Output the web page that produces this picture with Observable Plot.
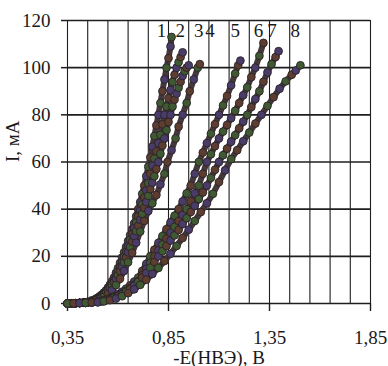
<!DOCTYPE html>
<html>
<head>
<meta charset="utf-8">
<script src="https://cdn.jsdelivr.net/npm/d3@7"></script>
<script src="https://cdn.jsdelivr.net/npm/@observablehq/plot@0.6"></script>
<style>
  html, body { margin: 0; padding: 0; background: #fff; }
  #chart { width: 388px; height: 366px; }
</style>
</head>
<body>
<div id="chart"></div>
<script>
// Series data: potential -E (V) and current I (mA)
const e1 = [0.35,0.37,0.39,0.41,0.43,0.45,0.47,0.49,0.50,0.51,0.52,0.53,0.54,0.55,0.56,0.57,0.58,0.59,0.60,0.61,0.62,0.63,0.64,0.65,0.66,0.67,0.68,0.69,0.70,0.71,0.72,0.73,0.74,0.75,0.76,0.77,0.78,0.79,0.80,0.81,0.82,0.83,0.84,0.85,0.86,0.865];
const i1 = [0,0.05,0.1,0.3,0.5,0.7,1.3,2,2.5,3.1,3.8,4.6,5.5,6.7,8,9.4,11,13,15,17.2,19.5,21.7,24,26.5,29,31.5,34,37,40,43,46.5,50,54,58,62,66.5,71,75.5,80,85,90,95,100,104,109,113];
const e2 = [0.35,0.37,0.39,0.41,0.43,0.45,0.47,0.49,0.50,0.51,0.52,0.53,0.54,0.55,0.56,0.57,0.58,0.59,0.60,0.61,0.62,0.63,0.64,0.65,0.66,0.67,0.68,0.69,0.70,0.71,0.72,0.73,0.74,0.75,0.76,0.77,0.78,0.79,0.80,0.81,0.82,0.83,0.84,0.85,0.86,0.87,0.88,0.89,0.90,0.91,0.92];
const i2 = [0,0.05,0.1,0.3,0.4,0.5,1.1,1.7,2,2.6,3.2,4,4.8,5.8,7,8.5,10,11.7,13.5,15.5,17.5,19.7,22,24.5,27,29.5,32,34.5,37,39.5,42,45,48,51,55,58.5,61.5,64.5,68,71.5,76,80,83.5,87,90.5,94,97,100,102.3,104.5,106.5];
const e3 = [0.35,0.37,0.39,0.41,0.43,0.45,0.47,0.49,0.50,0.51,0.52,0.53,0.54,0.55,0.56,0.57,0.58,0.59,0.60,0.61,0.62,0.63,0.64,0.65,0.66,0.67,0.68,0.69,0.70,0.71,0.72,0.73,0.74,0.75,0.76,0.77,0.78,0.79,0.80,0.81,0.82,0.83,0.84,0.85,0.86,0.87,0.88,0.89,0.90,0.91,0.92,0.93,0.94,0.95];
const i3 = [0,0.05,0.1,0.2,0.4,0.5,1,1.5,1.8,2.4,3,3.7,4.5,5.5,6.5,7.7,9,10.5,12,13.7,15.5,17.5,19.5,21.7,24,26.2,28.5,30.7,33,35.5,38,40.5,43,45.7,48.5,51.2,54,57,60,63.5,67,70,73.5,77,80,83.5,86.5,89,91.5,94,96.5,98.5,100,101];
const e4 = [0.35,0.37,0.39,0.41,0.43,0.45,0.47,0.49,0.51,0.53,0.55,0.57,0.59,0.61,0.63,0.65,0.67,0.69,0.71,0.73,0.75,0.77,0.79,0.81,0.83,0.845,0.865,0.885,0.90,0.92,0.94,0.955,0.975,0.995,1.005];
const i4 = [0,0.05,0.1,0.2,0.3,0.4,0.9,1.3,2,2.8,4,5.6,7.8,10.5,13.8,17.5,21.5,25.8,30.5,35,39.2,42.5,46,50.5,55,60,65,70,75,80,85,90,95,100,101.5];
const e5 = [0.35,0.38,0.41,0.44,0.47,0.50,0.52,0.54,0.56,0.58,0.60,0.62,0.64,0.66,0.68,0.70,0.72,0.74,0.76,0.78,0.80,0.82,0.84,0.86,0.88,0.90,0.92,0.94,0.96,0.98,1.00,1.02,1.04,1.06,1.08,1.10,1.12,1.14,1.16,1.18,1.195,1.206];
const i5 = [0,0.05,0.2,0.3,0.5,0.8,1.2,1.7,2.3,3,4,5,6.3,7.7,9.3,11,13.8,16.8,20,22.8,25.7,28.6,31.5,34.4,37.2,40,43.3,46.7,50,55,60,64,68,72,76,80,84,88,92.5,97.5,101,103];
const e6 = [0.35,0.38,0.41,0.44,0.47,0.50,0.52,0.54,0.56,0.58,0.60,0.62,0.64,0.66,0.68,0.70,0.72,0.74,0.76,0.78,0.80,0.82,0.84,0.86,0.88,0.90,0.92,0.94,0.96,0.98,1.00,1.02,1.04,1.06,1.08,1.10,1.12,1.14,1.16,1.18,1.20,1.22,1.24,1.26,1.28,1.30,1.32];
const i6 = [0,0.05,0.2,0.3,0.5,0.7,1.1,1.5,2,2.6,3.3,4.3,5.4,6.6,8,9.5,12,14.7,17.3,20,22.5,25,27.5,30,32.5,35,37.5,40,43.3,46.7,50,55,60,63.3,66.7,70,72.9,75.7,78.6,81.7,85,88.3,91.7,96,100,105,110.5];
const e7 = [0.35,0.38,0.41,0.44,0.47,0.50,0.52,0.54,0.56,0.58,0.60,0.62,0.64,0.66,0.68,0.70,0.72,0.74,0.76,0.78,0.80,0.82,0.84,0.86,0.88,0.90,0.92,0.94,0.96,0.98,1.00,1.02,1.04,1.06,1.08,1.10,1.12,1.14,1.16,1.18,1.20,1.22,1.24,1.26,1.28,1.30,1.32,1.34,1.36,1.38,1.395];
const i7 = [0,0.05,0.2,0.3,0.4,0.6,0.9,1.3,1.8,2.4,3.1,4,5,6.2,7.6,9.2,11,13,15.2,17.6,20,22.2,24.4,26.7,28.9,31.2,33.7,36.2,38.8,41.4,44.3,47.1,50,53.3,56.7,60,62.9,65.7,68.6,71.4,74.3,77.1,80,83.3,86.7,90,94,98,101.5,104.5,107];
const e8 = [0.35,0.38,0.41,0.44,0.47,0.50,0.53,0.56,0.59,0.62,0.65,0.68,0.71,0.74,0.77,0.80,0.83,0.86,0.89,0.92,0.95,0.98,1.01,1.04,1.07,1.10,1.13,1.16,1.19,1.22,1.25,1.28,1.31,1.34,1.37,1.40,1.43,1.46,1.48,1.503];
const i8 = [0,0.05,0.2,0.3,0.4,0.5,0.9,1.4,2.1,3.1,4.4,6,7.9,10.1,12.5,15.1,18,21.1,24.4,27.8,31.3,35,38.8,42.5,46.5,51.5,56.5,61.2,65,68.8,72.5,76.3,80,83.8,87.5,91.1,94.2,97,98.8,101];

const seriesNames = ["1","2","3","4","5","6","7","8"];
const seriesE = [e1,e2,e3,e4,e5,e6,e7,e8];
const seriesI = [i1,i2,i3,i4,i5,i6,i7,i8];

// Curve number labels along the top of the frame (data units)
const labelText = ["1","2","3","4","5","6","7","8"];
const labelE = [0.815,0.908,1.000,1.055,1.180,1.295,1.362,1.478];
const labelI = [115.5,115.5,115.5,115.5,115.5,115.5,115.5,115.5];

// Axis ticks and grid
const xTicks = [0.35,0.85,1.35,1.85];
const xGrid = [0.35,0.45,0.55,0.65,0.75,0.85,0.95,1.05,1.15,1.25,1.35,1.45,1.55,1.65,1.75,1.85];
const yTicks = [0,20,40,60,80,100,120];

const xLabel = "-E(НВЭ), В";
const yLabel = "I, мА";

const rows = [];
seriesNames.forEach((s, k) => {
  seriesE[k].forEach((e, j) => rows.push({s, e, i: seriesI[k][j], j}));
});
const labels = labelText.map((t, k) => ({t, e: labelE[k], i: labelI[k]}));

const beadColors = ["#3f5a32", "#5e3d31", "#4a3c69"];
const fmt = d => d.toFixed(2).replace(".", ",");

const chart = Plot.plot({
  width: 388,
  height: 366,
  marginLeft: 67,
  marginRight: 18,
  marginTop: 20,
  marginBottom: 63,
  style: {fontFamily: "'Liberation Serif', 'DejaVu Serif', serif", fontSize: "19px", background: "#fff", color: "#1a1a1a"},
  x: {domain: [0.35, 1.85]},
  y: {domain: [0, 120]},
  marks: [
    Plot.ruleX(xGrid, {stroke: "#1e1e1e", strokeWidth: 1.1, strokeOpacity: 1}),
    Plot.ruleY(yTicks, {stroke: "#1e1e1e", strokeWidth: 1.6, strokeOpacity: 1}),
    Plot.axisY({ticks: yTicks, tickSize: 6, tickPadding: 11, label: null, fontSize: 19, stroke: "#1e1e1e", strokeWidth: 1.5}),
    Plot.axisX({ticks: xTicks, tickSize: 8, tickPadding: 19, tickFormat: fmt, label: null, fontSize: 19, stroke: "#1e1e1e", strokeWidth: 1.4}),
    Plot.line(rows, {x: "e", y: "i", z: "s", stroke: "#45383c", strokeWidth: 6, strokeLinejoin: "round", strokeLinecap: "round"}),
    Plot.dot(rows, {x: "e", y: "i", r: 3.9, fill: d => beadColors[d.j % 3], stroke: "#2a2226", strokeWidth: 0.9}),
    Plot.text(labels, {x: "e", y: "i", text: "t", fontSize: 19, fill: "#1a1a1a"}),
    Plot.text([xLabel], {frameAnchor: "bottom", dy: 60, lineAnchor: "bottom", fontSize: 19, fill: "#1a1a1a"}),
    Plot.text([yLabel], {frameAnchor: "left", rotate: -90, dx: -55, fontSize: 19, fill: "#1a1a1a"})
  ]
});
document.getElementById("chart").appendChild(chart);
</script>
</body>
</html>
